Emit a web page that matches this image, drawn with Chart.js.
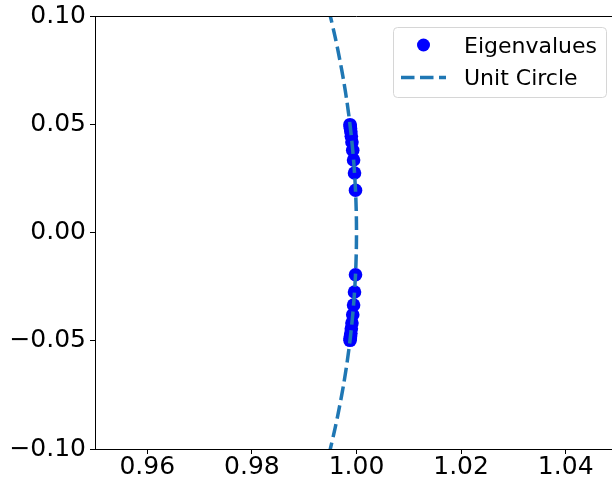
<!DOCTYPE html>
<html>
<head>
<meta charset="utf-8">
<script src="https://cdn.jsdelivr.net/npm/chart.js@4/dist/chart.umd.min.js"></script>
<style>
  html, body { margin: 0; padding: 0; background: #fff; overflow: hidden; }
  #wrap { width: 612px; height: 482px; overflow: hidden; position: relative; }
  #c { display: block; }
</style>
</head>
<body>
<div id="wrap"><canvas id="c" width="625" height="482"></canvas></div>
<script>
const eigReal = [0.99981, 0.99962, 0.99944, 0.99928, 0.99913, 0.99901, 0.99892, 0.99885, 0.99880, 0.99876,
                 0.99981, 0.99962, 0.99944, 0.99928, 0.99913, 0.99901, 0.99892, 0.99885, 0.99880, 0.99876];
const eigImag = [0.0195, 0.0275, 0.0335, 0.0380, 0.0418, 0.0445, 0.0465, 0.0480, 0.0490, 0.0498,
                 -0.0195, -0.0275, -0.0335, -0.0380, -0.0418, -0.0445, -0.0465, -0.0480, -0.0490, -0.0498];
// Unit circle points near (1, 0)
const circleReal = [0.99277, 0.99393, 0.99499, 0.99594, 0.99679, 0.99755, 0.99820, 0.99875, 0.99920, 0.99955, 0.99980, 0.99995, 1.00000,
                    0.99995, 0.99980, 0.99955, 0.99920, 0.99875, 0.99820, 0.99755, 0.99679, 0.99594, 0.99499, 0.99393, 0.99277];
const circleImag = [-0.12, -0.11, -0.10, -0.09, -0.08, -0.07, -0.06, -0.05, -0.04, -0.03, -0.02, -0.01, 0.00,
                    0.01, 0.02, 0.03, 0.04, 0.05, 0.06, 0.07, 0.08, 0.09, 0.10, 0.11, 0.12];
const xTicks = [0.96, 0.98, 1.00, 1.02, 1.04];
const yTicks = [-0.10, -0.05, 0.00, 0.05, 0.10];
const seriesNames = ['Eigenvalues', 'Unit Circle'];

const FONT = 'DejaVu Sans';
const fmt = v => { const s = Number(v).toFixed(2); return s.startsWith('-') ? '\u2212' + s.slice(1) : s; };

const eigData = eigReal.map((x, i) => ({ x: x, y: eigImag[i] }));
const circData = circleReal.map((x, i) => ({ x: x, y: circleImag[i] }));

const customLegend = {
  id: 'customLegend',
  afterDraw(chart) {
    const ctx = chart.ctx;
    const ca = chart.chartArea;
    ctx.save();
    // top spine
    ctx.strokeStyle = '#000';
    ctx.lineWidth = 1;
    ctx.beginPath();
    ctx.moveTo(ca.left, ca.top + 0.5);
    ctx.lineTo(ca.right, ca.top + 0.5);
    ctx.stroke();
    // legend box
    const bx = 393.5, by = 27.5, bw = 213, bh = 70, r = 4;
    ctx.beginPath();
    ctx.moveTo(bx + r, by);
    ctx.lineTo(bx + bw - r, by);
    ctx.quadraticCurveTo(bx + bw, by, bx + bw, by + r);
    ctx.lineTo(bx + bw, by + bh - r);
    ctx.quadraticCurveTo(bx + bw, by + bh, bx + bw - r, by + bh);
    ctx.lineTo(bx + r, by + bh);
    ctx.quadraticCurveTo(bx, by + bh, bx, by + bh - r);
    ctx.lineTo(bx, by + r);
    ctx.quadraticCurveTo(bx, by, bx + r, by);
    ctx.closePath();
    ctx.fillStyle = 'rgba(255,255,255,0.8)';
    ctx.fill();
    ctx.strokeStyle = '#d6d6d6';
    ctx.lineWidth = 1;
    ctx.stroke();
    // entry 1: marker
    const ds0 = chart.data.datasets[0];
    const ds1 = chart.data.datasets[1];
    ctx.fillStyle = ds0.backgroundColor;
    ctx.beginPath();
    ctx.arc(423.5, 45, 6.5, 0, Math.PI * 2);
    ctx.fill();
    // entry 2: dashed line
    ctx.strokeStyle = ds1.borderColor;
    ctx.lineWidth = 3.5;
    ctx.setLineDash([13.5, 5.5]);
    ctx.beginPath();
    ctx.moveTo(401, 77.5);
    ctx.lineTo(446, 77.5);
    ctx.stroke();
    ctx.setLineDash([]);
    // texts
    ctx.fillStyle = '#000';
    ctx.font = '22px "' + FONT + '"';
    ctx.textBaseline = 'alphabetic';
    ctx.textAlign = 'left';
    ctx.fillText(ds0.label, 464, 53);
    ctx.fillText(ds1.label, 464, 85);
    ctx.restore();
  }
};

new Chart(document.getElementById('c'), {
  type: 'scatter',
  data: {
    datasets: [
      {
        label: seriesNames[0],
        data: eigData,
        backgroundColor: '#0000ff',
        borderColor: '#0000ff',
        pointRadius: 6.8,
        pointHoverRadius: 6.8,
        pointBorderWidth: 0,
        showLine: false,
        order: 1
      },
      {
        label: seriesNames[1],
        data: circData,
        showLine: true,
        borderColor: '#1f77b4',
        backgroundColor: '#1f77b4',
        borderWidth: 3.5,
        borderDash: [13.5, 5.5],
        pointRadius: 0,
        tension: 0.3,
        fill: false,
        order: 0
      }
    ]
  },
  options: {
    responsive: false,
    animation: false,
    events: [],
    layout: { padding: { left: 0, top: 16, right: 7, bottom: 0 } },
    plugins: { legend: { display: false }, tooltip: { enabled: false } },
    scales: {
      x: {
        type: 'linear',
        min: 0.95,
        max: 1.05,
        afterBuildTicks: s => { s.ticks = xTicks.map(v => ({ value: v })); },
        afterFit: s => { s.height = 33; },
        grid: { display: true, drawOnChartArea: false, drawTicks: true, tickLength: 5, color: '#000', lineWidth: 1 },
        border: { display: true, color: '#000', width: 1 },
        ticks: { color: '#000', font: { family: FONT, size: 25, lineHeight: 1 }, padding: 1, maxRotation: 0, autoSkip: false, callback: v => fmt(v) }
      },
      y: {
        type: 'linear',
        min: -0.1,
        max: 0.1,
        afterBuildTicks: s => { s.ticks = yTicks.map(v => ({ value: v })); },
        afterFit: s => { s.width = 95; s.paddingTop = 0; s.paddingBottom = 0; },
        grid: { display: true, drawOnChartArea: false, drawTicks: true, tickLength: 5, color: '#000', lineWidth: 1 },
        border: { display: true, color: '#000', width: 1 },
        ticks: { color: '#000', font: { family: FONT, size: 25, lineHeight: 1 }, padding: 4, autoSkip: false, callback: v => fmt(v) }
      }
    }
  },
  plugins: [customLegend]
});
</script>
</body>
</html>
